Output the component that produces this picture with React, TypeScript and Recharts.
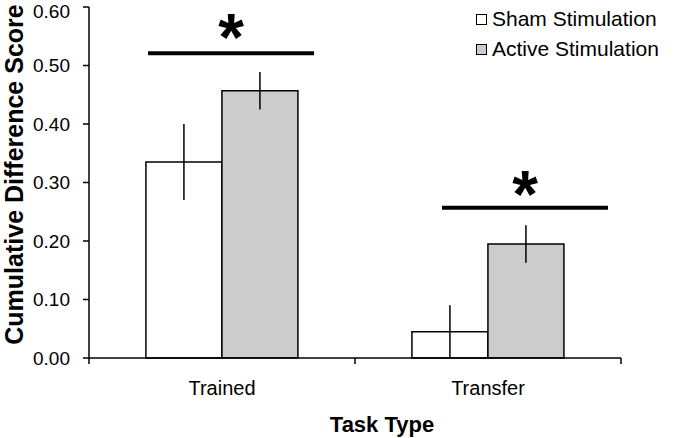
import React from 'react';
import {
  BarChart, Bar, XAxis, YAxis, ErrorBar, Legend, ReferenceLine, ReferenceDot,
} from 'recharts';

const categories = ['Trained', 'Transfer'];
const shamValues = [0.335, 0.045];
const shamErrors = [0.065, 0.045];
const activeValues = [0.457, 0.195];
const activeErrors = [0.032, 0.032];
const yTicks = [0, 0.1, 0.2, 0.3, 0.4, 0.5, 0.6];
const boundaryTicks = [0, 1, 2];
const seriesOrder = ['sham', 'active'];

// significance brackets, x in category units (0..2)
const sigLines = [
  { x1: 0.222, x2: 0.846, y: 0.521, starX: 0.534, starY: 0.509 },
  { x1: 1.327, x2: 1.951, y: 0.257, starX: 1.639, starY: 0.241 },
];

const data = categories.map((task, i) => ({
  task,
  pos: i + 0.5,
  sham: shamValues[i],
  shamErr: shamErrors[i],
  active: activeValues[i],
  activeErr: activeErrors[i],
}));

const FONT = '"Liberation Sans", Arial, sans-serif';
const fills: Record<string, string> = { sham: '#ffffff', active: '#cccccc' };

const LegendBox = ({ payload }: any) => {
  const items = [...(payload || [])].sort(
    (a: any, b: any) => seriesOrder.indexOf(a.dataKey) - seriesOrder.indexOf(b.dataKey));
  return (
    <div style={{ width: 200, fontFamily: FONT, fontSize: 21, color: '#000', lineHeight: '30px', whiteSpace: 'nowrap' }}>
      {items.map((entry: any) => (
        <div key={entry.value} style={{ display: 'flex', alignItems: 'center' }}>
          <span style={{
            display: 'inline-block', flexShrink: 0, width: 9, height: 9, border: '1.5px solid #000',
            background: fills[entry.dataKey], marginRight: 5,
          }} />
          {entry.value}
        </div>
      ))}
    </div>
  );
};

const Star = (props: any) => (
  <text x={props.cx} y={props.cy} textAnchor="middle" fontSize={66} fontWeight="bold" fontFamily={FONT} fill="#000">*</text>
);

const YLabel = ({ viewBox }: any) => {
  const x = viewBox.x + 23;
  const y = viewBox.y + viewBox.height / 2 - 8;
  return (
    <text x={x} y={y} transform={`rotate(-90, ${x}, ${y})`} textAnchor="middle" fontSize={25} fontWeight="bold" fontFamily={FONT} fill="#000">
      Cumulative Difference Score
    </text>
  );
};

export default function App() {
  return (
    <div style={{ position: 'absolute', left: 0, top: 0, background: '#fff' }}>
      <BarChart width={675} height={438} data={data} margin={{ top: 7, right: 54, bottom: 0, left: 0 }}
        barCategoryGap="21.4%" barGap={0} style={{ fontFamily: FONT }}>
        <XAxis xAxisId="a" dataKey="pos" type="number" domain={[0, 2]} ticks={boundaryTicks} tickFormatter={() => ''}
          height={1} tickSize={6} axisLine={{ stroke: '#000', strokeWidth: 1.5 }} tickLine={{ stroke: '#000', strokeWidth: 1.5 }}
          allowDataOverflow />
        <XAxis xAxisId="b" dataKey="task" height={79} axisLine={false} tickLine={false} tickSize={0} tickMargin={22}
          tick={{ fill: '#000', fontSize: 20, fontFamily: FONT }}
          label={{ value: 'Task Type', position: 'insideBottom', offset: 6, dx: 27, fill: '#000', fontSize: 22, fontWeight: 'bold', fontFamily: FONT }} />
        <YAxis domain={[0, 0.6]} ticks={yTicks} width={89} tickFormatter={(v: number) => v.toFixed(2)}
          tickSize={6} tickMargin={13} axisLine={{ stroke: '#000', strokeWidth: 1.5 }} tickLine={{ stroke: '#000', strokeWidth: 1.5 }}
          tick={{ fill: '#000', fontSize: 19, fontFamily: FONT }} label={<YLabel />} />
        <Legend layout="horizontal" verticalAlign="top" align="right" content={<LegendBox />}
          height={0} wrapperStyle={{ top: 4, left: 476, width: 0, height: 0 }} />
        <Bar xAxisId="b" dataKey="sham" name="Sham Stimulation" fill={fills.sham} stroke="#000" strokeWidth={1.5} isAnimationActive={false}>
          <ErrorBar dataKey="shamErr" width={0} stroke="#000" strokeWidth={1.5} isAnimationActive={false} />
        </Bar>
        <Bar xAxisId="b" dataKey="active" name="Active Stimulation" fill={fills.active} stroke="#000" strokeWidth={1.5} isAnimationActive={false}>
          <ErrorBar dataKey="activeErr" width={0} stroke="#000" strokeWidth={1.5} isAnimationActive={false} />
        </Bar>
        {sigLines.map((s, i) => (
          <ReferenceLine key={`l${i}`} xAxisId="a" segment={[{ x: s.x1, y: s.y }, { x: s.x2, y: s.y }]}
            stroke="#000" strokeWidth={4} />
        ))}
        {sigLines.map((s, i) => (
          <ReferenceDot key={`s${i}`} xAxisId="a" x={s.starX} y={s.starY} r={0} shape={<Star />} />
        ))}
      </BarChart>
    </div>
  );
}
